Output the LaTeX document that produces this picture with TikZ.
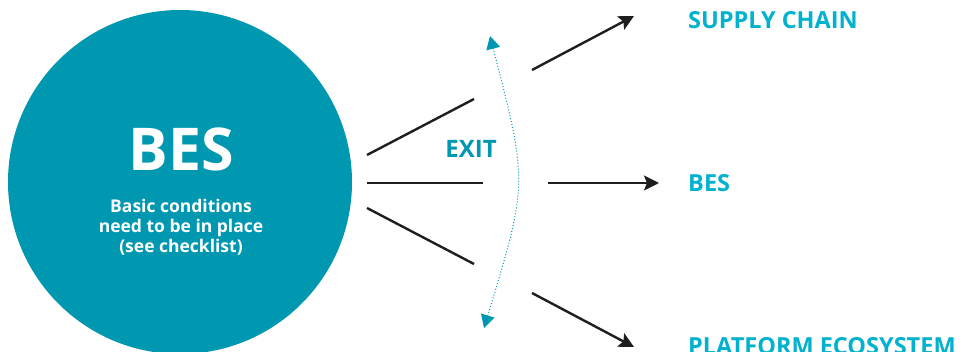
\documentclass[tikz,border=0pt]{standalone}
\usepackage{fontspec}
\setmainfont{Open Sans}
\usetikzlibrary{arrows.meta}
\definecolor{teal1}{RGB}{0,152,176}
\definecolor{cyan1}{RGB}{0,178,206}
\definecolor{ink}{RGB}{30,30,30}
\tikzset{
  fanline/.style={draw=ink, line width=2.4pt},
  outarrow/.style={draw=ink, line width=2.4pt, -{Stealth[length=15pt,width=15pt,inset=3pt]}},
  outlabel/.style={text=cyan1, font=\bfseries\fontsize{23.5}{26}\selectfont, anchor=west, inner sep=0pt},
  exitarc/.style={draw=teal1, line width=1pt, dash pattern=on 1pt off 2pt,
    {Triangle[length=13pt,width=14pt]}-{Triangle[length=13pt,width=14pt]}}
}
\begin{document}
\begin{tikzpicture}[x=1pt,y=-1pt]
\useasboundingbox (0,0) rectangle (966,352);
% circle
\node (bes) [circle, fill=teal1, minimum size=344pt, inner sep=0pt] at (180,182) {};
\node (bestitle) [text=white, font=\bfseries\fontsize{59}{62}\selectfont, inner sep=0pt] at (181,149) {BES};
\node (bessub) [text=white, font=\bfseries\fontsize{17.5}{20}\selectfont, align=center, inner sep=0pt] at (181,227)
  {Basic conditions\\need to be in place\\(see checklist)};
% fan lines
\coordinate (f1a) at (367,155); \coordinate (f1b) at (474,99);
\coordinate (f2a) at (367,183); \coordinate (f2b) at (483,183);
\coordinate (f3a) at (367,208); \coordinate (f3b) at (474,264);
\draw[fanline] (f1a) -- (f1b);
\draw[fanline] (f2a) -- (f2b);
\draw[fanline] (f3a) -- (f3b);
% exit label
\node (exit) [text=teal1, font=\bfseries\fontsize{24}{26}\selectfont, inner sep=0pt] at (471,149) {EXIT};
% exit arc
\coordinate (arcTop) at (490,36);
\coordinate (arcBot) at (484,328);
\draw[exitarc] (arcTop) .. controls (528,183) .. (arcBot);
% outgoing arrows
\coordinate (o1a) at (532,70); \coordinate (o1b) at (634,16);
\coordinate (o2a) at (548,183); \coordinate (o2b) at (659,183);
\coordinate (o3a) at (532,293); \coordinate (o3b) at (634,347);
% labels
\node (supply) [outlabel] at (688,20) {SUPPLY CHAIN};
\node (bes2) [outlabel] at (688,183) {BES};
\node (platform) [outlabel] at (688,346) {PLATFORM ECOSYSTEM};
\draw[outarrow] (o1a) -- (o1b);
\draw[outarrow] (o2a) -- (o2b);
\draw[outarrow] (o3a) -- (o3b);
\end{tikzpicture}
\end{document}
